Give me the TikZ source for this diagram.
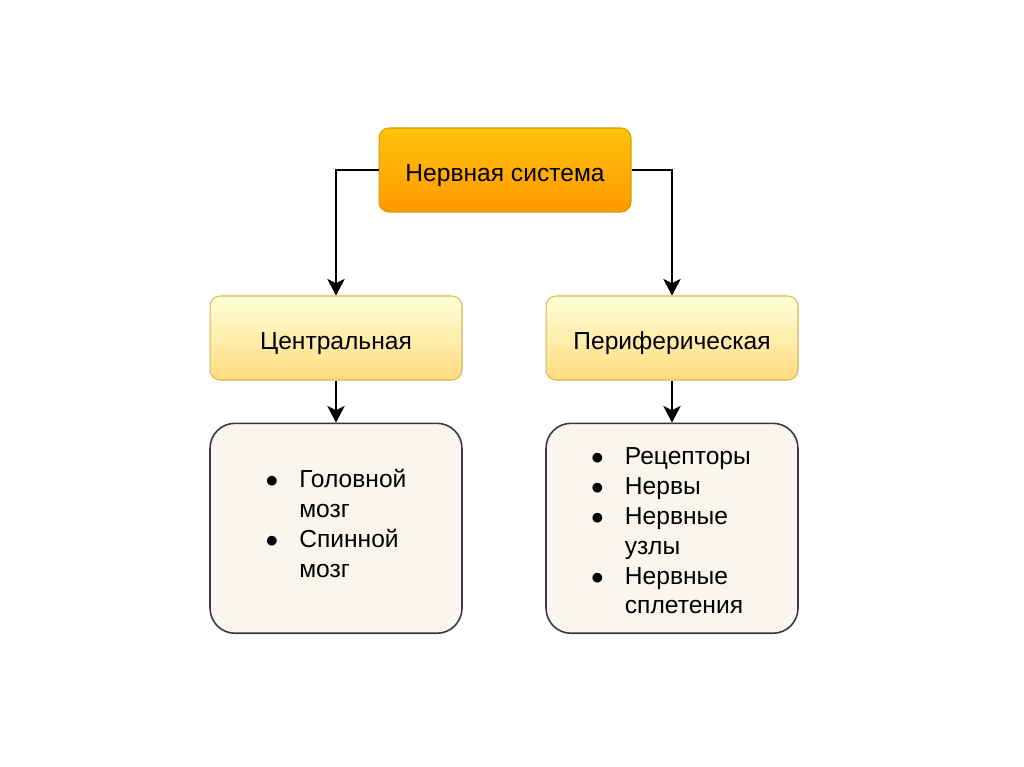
\documentclass[tikz,border=0pt]{standalone}
\usepackage{fontspec}
\setmainfont{Liberation Sans}
\usetikzlibrary{positioning,arrows.meta}

\definecolor{topborder}{HTML}{D79B00}
\definecolor{midborder}{HTML}{D6B656}
\definecolor{botborder}{HTML}{36393D}
\definecolor{botfill}{HTML}{F9F7ED}

\begin{document}
\begin{tikzpicture}[x=0.02cm,y=-0.02cm,node distance=0.84cm,
	font=\fontsize{14}{17}\selectfont,
	link/.style = {draw=black, line width=0.8pt, -{Stealth[length=9.5pt,width=10pt,inset=2.5pt]}},
	root box/.style = {rectangle, rounded corners=0.2cm, draw=topborder, line width=0.6pt,
		top color=orange!50!yellow!95!white, bottom color=orange!80!yellow,
		minimum width=5.04cm, minimum height=1.68cm, text height=0.55cm},
	kind box/.style = {rectangle, rounded corners=0.2cm, draw=midborder, line width=0.6pt,
		top color=yellow!15!white, bottom color=yellow!45!orange!50!white,
		minimum width=5.04cm, minimum height=1.68cm, text height=0.55cm},
	list box/.style = {rectangle, rounded corners=0.5cm, draw=botborder, line width=0.9pt,
		fill=botfill, minimum width=5.04cm, minimum height=4.2cm}]

	\useasboundingbox (0,0) rectangle (1024,767);

	\node[root box] (root) at (505,170) {Нервная система};
	\node[kind box] (central) at (336,338) {Центральная};
	\node[kind box] (periph) at (672,338) {Периферическая};
	\node[list box, below = of central] (cparts) {};
	\node[list box, below = of periph] (pparts) {};

	% bullet lists
	\node at ([yshift=0.04cm]cparts.center) (clist) {\begin{tabular}{@{}l@{\hspace{12pt}}l@{}}
		$\bullet$ & Головной\\ & мозг\\ $\bullet$ & Спинной\\ & мозг
	\end{tabular}};
	\node at ([xshift=-0.02cm,yshift=-0.1cm]pparts.center) (plist) {\begin{tabular}{@{}l@{\hspace{12pt}}l@{}}
		$\bullet$ & Рецепторы\\ $\bullet$ & Нервы\\ $\bullet$ & Нервные\\ & узлы\\
		$\bullet$ & Нервные\\ & сплетения
	\end{tabular}};

	\draw[link] (root.west) -| (central.north);
	\draw[link] (root.east) -| (periph.north);
	\draw[link] (central) -- (cparts);
	\draw[link] (periph) -- (pparts);

\end{tikzpicture}
\end{document}
